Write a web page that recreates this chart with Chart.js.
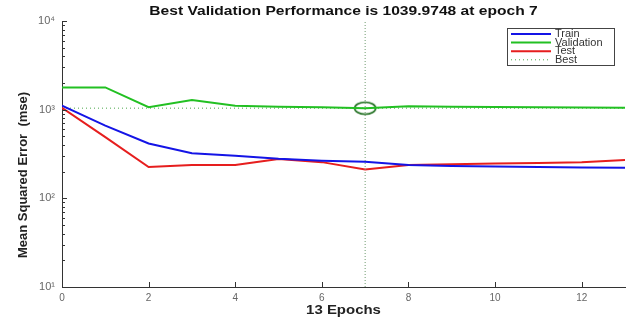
<!DOCTYPE html>
<html>
<head>
<meta charset="utf-8">
<script src="https://cdn.jsdelivr.net/npm/chart.js@4/dist/chart.umd.min.js"></script>
<style>
  html, body { margin: 0; padding: 0; background: #fff; }
  #wrap { width: 634px; height: 320px; position: relative; }
</style>
</head>
<body>
<div id="wrap"><canvas id="chart"></canvas></div>
<script>
var epochs = [0, 1, 2, 3, 4, 5, 6, 7, 8, 9, 10, 11, 12, 13];
var trainMse = [1110, 660, 416, 322, 303, 280, 266, 258, 237, 232, 228, 225, 223, 221];
var validMse = [1780, 1780, 1066, 1282, 1110, 1080, 1066, 1039.9748, 1090, 1080, 1070, 1062, 1055, 1050];
var testMse = [1050, 490, 225, 237, 237, 278, 256, 212, 237, 242, 247, 251, 256, 270];
var bestEpoch = 7;
var bestValue = 1039.9748;
var yTickValues = [10, 100, 1000, 10000];
var titleText = 'Best Validation Performance is 1039.9748 at epoch 7';
var xLabel = '13 Epochs';
var yLabel = 'Mean Squared Error  (mse)';

var blue = '#1414e6';
var green = '#22c022';
var red = '#e61e1e';
var bestGreen = '#4aa84a';
var axisColor = '#333';
var tickColor = '#666';
var sansFont = '"Liberation Sans", Arial, sans-serif';

function pts(ys) {
  return epochs.map(function (e, i) { return { x: e, y: ys[i] }; });
}

// ellipse marker for the best point (the picture is stretched sideways)
var ring = document.createElement('canvas');
ring.width = 24; ring.height = 15;
(function () {
  var c = ring.getContext('2d');
  c.strokeStyle = '#1e6e1e';
  c.lineWidth = 1.6;
  c.beginPath();
  c.ellipse(12, 7.5, 10.5, 6, 0, 0, Math.PI * 2);
  c.stroke();
})();

var supers = { '1': '\u00b9', '2': '\u00b2', '3': '\u00b3', '4': '\u2074' };

function stretchedText(ctx, text, x, y, sx) {
  ctx.save();
  ctx.translate(x, y);
  ctx.scale(sx, 1);
  ctx.fillText(text, 0, 0);
  ctx.restore();
}

var decorations = {
  id: 'decorations',
  afterDraw: function (chart) {
    var ctx = chart.ctx;
    var area = chart.chartArea;
    var xs = chart.scales.x, ys = chart.scales.y;
    ctx.save();

    // inward tick marks
    ctx.strokeStyle = axisColor;
    ctx.lineWidth = 1;
    ctx.beginPath();
    for (var d = 10; d < 10000; d *= 10) {
      for (var m = 1; m <= 10; m++) {
        var py = Math.round(ys.getPixelForValue(d * m)) + 0.5;
        var len = (m === 1 || m === 10) ? 5 : 3;
        ctx.moveTo(area.left, py);
        ctx.lineTo(area.left + len, py);
      }
    }
    xs.ticks.forEach(function (t) {
      if (t.value % 2 !== 0) return;
      var px = Math.round(xs.getPixelForValue(t.value)) + 0.5;
      ctx.moveTo(px, area.bottom);
      ctx.lineTo(px, area.bottom - 5);
    });
    ctx.stroke();

    var cx = (area.left + area.right) / 2;
    ctx.textAlign = 'center';
    ctx.textBaseline = 'middle';

    // title
    ctx.fillStyle = '#111';
    ctx.font = 'bold 13px ' + sansFont;
    stretchedText(ctx, titleText, cx, 11, 1.2);

    // x label
    ctx.fillStyle = '#222';
    ctx.font = 'bold 13px ' + sansFont;
    stretchedText(ctx, xLabel, cx, 310, 1.15);

    // y label
    ctx.save();
    ctx.translate(23, 175);
    ctx.rotate(-Math.PI / 2);
    ctx.font = 'bold 13px "Liberation Sans Narrow", ' + sansFont;
    ctx.fillStyle = '#222';
    ctx.fillText(yLabel, 0, 0);
    ctx.restore();

    // legend box
    var bx = area.right - 118, by = area.top + 7, bw = 107, bh = 37;
    ctx.fillStyle = '#fff';
    ctx.fillRect(bx, by, bw, bh);
    ctx.strokeStyle = '#444';
    ctx.lineWidth = 1;
    ctx.strokeRect(bx + 0.5, by + 0.5, bw, bh);
    ctx.font = '10px ' + sansFont;
    ctx.textAlign = 'left';
    var items = chart.data.datasets.filter(function (ds) { return ds.legend; });
    items.forEach(function (ds, i) {
      var ly = by + 6 + i * 8.6;
      ctx.strokeStyle = ds.borderColor;
      ctx.lineWidth = ds.borderDash ? 1 : 2;
      ctx.setLineDash(ds.borderDash || []);
      ctx.beginPath();
      ctx.moveTo(bx + 4, ly);
      ctx.lineTo(bx + 44, ly);
      ctx.stroke();
      ctx.setLineDash([]);
      ctx.fillStyle = '#333';
      stretchedText(ctx, ds.label, bx + 48, ly + 0.5, 1.1);
    });
    ctx.restore();
  }
};

new Chart(document.getElementById('chart'), {
  type: 'line',
  data: {
    datasets: [
      { label: 'Best', legend: false, data: [{ x: bestEpoch, y: 10 }, { x: bestEpoch, y: 10000 }],
        borderColor: '#6f9a6f', borderWidth: 1, borderDash: [1, 2], pointRadius: 0 },
      { label: 'Train', legend: true, data: pts(trainMse), borderColor: blue, borderWidth: 2, pointRadius: 0 },
      { label: 'Validation', legend: true, data: pts(validMse), borderColor: green, borderWidth: 2, pointRadius: 0 },
      { label: 'Test', legend: true, data: pts(testMse), borderColor: red, borderWidth: 2, pointRadius: 0 },
      { label: 'Best', legend: true, data: [{ x: 0, y: bestValue }, { x: 13, y: bestValue }],
        borderColor: bestGreen, borderWidth: 1, borderDash: [1, 3], pointRadius: 0 },
      { label: 'BestPoint', legend: false, data: [{ x: bestEpoch, y: bestValue }],
        showLine: false, pointStyle: ring, pointRadius: 8 }
    ]
  },
  options: {
    responsive: true,
    maintainAspectRatio: false,
    animation: false,
    layout: { padding: { top: 21, right: 5, left: 0, bottom: 0 } },
    scales: {
      x: {
        type: 'linear',
        min: 0,
        max: 13,
        grid: { display: false, drawTicks: false, tickLength: 0 },
        border: { display: true, color: axisColor, width: 1 },
        ticks: {
          stepSize: 2,
          color: tickColor,
          padding: 5,
          font: { size: 10, family: sansFont },
          callback: function (v) { return v % 2 === 0 ? String(v) : null; }
        },
        afterFit: function (s) { s.height = 33; }
      },
      y: {
        type: 'logarithmic',
        min: 10,
        max: 10000,
        grid: { display: false, drawTicks: false, tickLength: 0 },
        border: { display: true, color: axisColor, width: 1 },
        afterBuildTicks: function (s) {
          s.ticks = yTickValues.map(function (v) { return { value: v }; });
        },
        ticks: {
          autoSkip: false,
          color: tickColor,
          padding: 7,
          font: { size: 11, family: sansFont },
          callback: function (v) {
            var p = Math.round(Math.log10(v));
            return '10' + supers[String(p)];
          }
        },
        afterFit: function (s) { s.width = 62; }
      }
    },
    plugins: {
      legend: { display: false },
      tooltip: { enabled: false }
    }
  },
  plugins: [decorations]
});
</script>
</body>
</html>
